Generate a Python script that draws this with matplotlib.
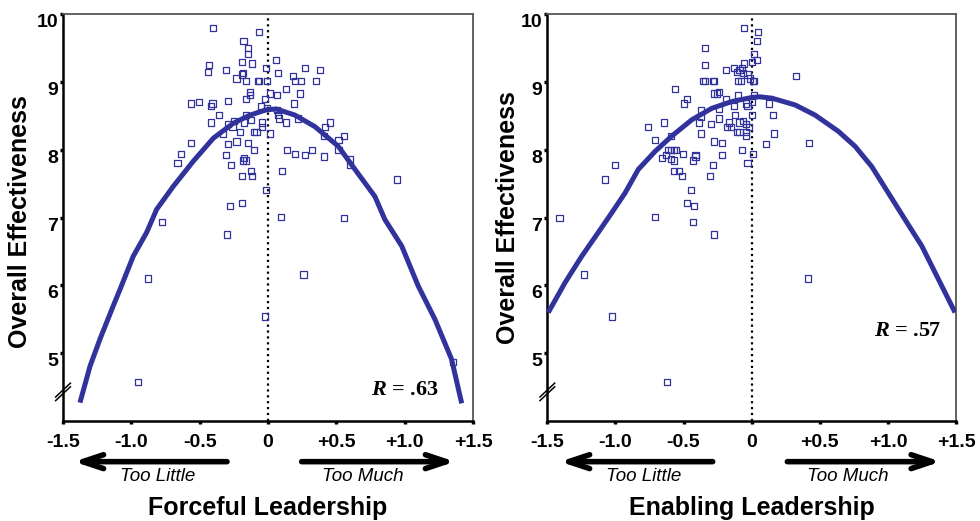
import numpy as np
import matplotlib
matplotlib.use("Agg")
from matplotlib import pyplot as plt

plt.rcParams['font.family'] = ['Liberation Sans', 'DejaVu Sans']
plt.rcParams['mathtext.fontset'] = 'custom'
plt.rcParams['mathtext.bf'] = 'Liberation Serif:bold'
plt.rcParams['mathtext.bfit'] = 'Liberation Serif:italic:bold'

# ---- data ----
# Forceful leadership (left panel)
forceful_x = [-0.40, -0.066, -0.18, -0.144, -0.144, -0.43, -0.44, -0.31, -0.193, -0.115,
              -0.185, -0.19, -0.23, -0.163, -0.076, -0.066, -0.007, -0.017, 0.061, 0.073,
              0.183, 0.198, 0.241, 0.268, 0.349, 0.378, 0.132, 0.232, 0.063, 0.015,
              -0.024, -0.134, -0.134, -0.163, -0.29, -0.507, -0.566, -0.407, -0.417, 0.190,
              -0.054, -0.01, -0.36, -0.163, -0.124, -0.25, -0.29, -0.417, -0.173, -0.046,
              -0.046, -0.26, -0.33, -0.205, -0.10, -0.085, 0.015, 0.063, 0.073, 0.083,
              0.132, 0.22, 0.417, 0.456, 0.407, 0.515, 0.554, -0.566, -0.29, -0.23,
              -0.144, -0.105, -0.634, -0.663, -0.31, -0.27, -0.173, -0.163, -0.183, 0.141,
              0.20, 0.268, 0.32, 0.407, 0.515, 0.602, 0.602, -0.124, -0.193, -0.115,
              0.102, 0.946, -0.017, -0.28, -0.193, -0.773, 0.093, 0.554, -0.30, -0.88,
              0.259, -0.024, 1.354, -0.949]
forceful_y = [9.80, 9.74, 9.60, 9.50, 9.41, 9.25, 9.15, 9.17, 9.29, 9.27,
              9.13, 9.11, 9.05, 9.01, 9.01, 9.01, 9.01, 9.21, 9.32, 9.13,
              9.09, 9.01, 9.01, 9.21, 9.01, 9.17, 8.89, 8.83, 8.81, 8.83,
              8.75, 8.85, 8.81, 8.75, 8.72, 8.70, 8.68, 8.68, 8.64, 8.68,
              8.64, 8.61, 8.51, 8.51, 8.44, 8.42, 8.38, 8.40, 8.40, 8.40,
              8.34, 8.34, 8.24, 8.26, 8.26, 8.26, 8.24, 8.58, 8.51, 8.46,
              8.40, 8.46, 8.34, 8.40, 8.20, 8.14, 8.20, 8.10, 8.08, 8.12,
              8.10, 8.00, 7.94, 7.80, 7.92, 7.78, 7.88, 7.84, 7.84, 8.00,
              7.94, 7.92, 8.00, 7.90, 8.00, 7.86, 7.78, 7.69, 7.61, 7.61,
              7.69, 7.56, 7.41, 7.17, 7.21, 6.93, 7.01, 6.99, 6.75, 6.10,
              6.16, 5.54, 4.87, 4.58]
forceful_fit_x = [-1.376, -1.302, -1.229, -1.132, -1.083, -0.986, -0.888, -0.815, -0.693,
                  -0.547, -0.40, -0.254, -0.132, -0.01, 0.06, 0.197, 0.343, 0.514, 0.636,
                  0.782, 0.855, 0.978, 1.099, 1.221, 1.343, 1.417]
forceful_fit_y = [4.27, 4.81, 5.21, 5.70, 5.94, 6.43, 6.78, 7.12, 7.46,
                  7.83, 8.17, 8.39, 8.51, 8.59, 8.60, 8.51, 8.34, 8.05, 7.71,
                  7.31, 6.97, 6.58, 5.99, 5.50, 4.91, 4.26]

# Enabling leadership (right panel)
enabling_x = [-0.059, 0.049, 0.039, -0.345, 0.020, 0.039, -0.345, 0.0, -0.059, -0.186,
              -0.13, -0.069, -0.11, -0.09, -0.061, -0.03, -0.015, 0.325, -0.355, -0.345,
              -0.286, -0.276, -0.10, -0.081, 0.01, 0.02, -0.563, -0.472, -0.494, -0.276,
              -0.257, -0.237, -0.186, -0.10, 0.02, -0.374, -0.374, -0.237, -0.13, -0.039,
              -0.03, 0.0, 0.127, 0.157, 0.0, -0.12, -0.237, -0.384, -0.296, -0.179,
              -0.169, -0.149, -0.061, -0.09, -0.039, -0.02, -0.11, -0.09, -0.039, -0.039,
              0.166, 0.108, 0.423, -0.759, -0.641, -0.71, -0.592, -0.374, -0.276, -0.218,
              -0.069, 0.01, -0.03, -0.612, -0.592, -0.573, -0.553, -0.661, -0.631, -0.592,
              -0.573, -0.502, -0.433, -0.413, -0.413, -0.286, -0.218, -0.573, -0.533, -0.514,
              -0.306, -1.006, -1.074, -0.445, -0.472, -0.423, -0.433, -0.71, -0.276, -1.41,
              -1.231, 0.413, -1.025, -0.621]
enabling_y = [9.80, 9.74, 9.60, 9.50, 9.41, 9.32, 9.25, 9.29, 9.27, 9.17,
              9.21, 9.21, 9.15, 9.17, 9.13, 9.11, 9.05, 9.09, 9.01, 9.01,
              9.01, 9.01, 9.01, 9.01, 9.01, 9.01, 8.89, 8.75, 8.68, 8.83,
              8.83, 8.85, 8.75, 8.81, 8.81, 8.58, 8.48, 8.60, 8.64, 8.68,
              8.64, 8.70, 8.68, 8.51, 8.51, 8.51, 8.46, 8.40, 8.38, 8.34,
              8.40, 8.34, 8.42, 8.40, 8.38, 8.34, 8.26, 8.26, 8.26, 8.20,
              8.24, 8.08, 8.10, 8.34, 8.40, 8.14, 8.20, 8.24, 8.12, 8.10,
              8.00, 7.94, 7.80, 8.00, 8.00, 8.00, 8.00, 7.88, 7.92, 7.86,
              7.84, 7.94, 7.84, 7.92, 7.90, 7.78, 7.92, 7.69, 7.69, 7.61,
              7.61, 7.78, 7.56, 7.41, 7.21, 7.17, 6.93, 7.01, 6.75, 6.99,
              6.16, 6.10, 5.54, 4.58]
enabling_fit_x = [-1.493, -1.37, -1.247, -1.126, -1.027, -0.93, -0.832, -0.709, -0.587,
                  -0.44, -0.293, -0.146, 0.001, 0.06, 0.148, 0.319, 0.466, 0.637, 0.759,
                  0.882, 1.004, 1.126, 1.249, 1.371, 1.493]
enabling_fit_y = [5.60, 6.04, 6.43, 6.78, 7.07, 7.36, 7.71, 7.975, 8.20,
                  8.44, 8.61, 8.71, 8.77, 8.78, 8.76, 8.66, 8.51, 8.27, 8.05,
                  7.75, 7.36, 6.97, 6.58, 6.09, 5.60]

xticks = [-1.5, -1.0, -0.5, 0, 0.5, 1.0, 1.5]
xtick_labels = ['-1.5', '-1.0', '-0.5', '0', '+0.5', '+1.0', '+1.5']
yticks = [5, 6, 7, 8, 9, 10]
ytick_labels = ['5', '6', '7', '8', '9', '10']

blue = '#32329c'


def panel(ax, px, py, cx, cy, xlabel, rtext, rpos, ylab_x, ylab_y, arrows, words):
    ax.set_xlim(-1.5, 1.5)
    ax.set_ylim(4.0, 10.0)
    ax.axvline(0, color='black', linestyle=':', linewidth=1.6, zorder=1)
    ax.scatter(px, py, marker='s', s=20, facecolors='none', edgecolors=blue,
               linewidths=0.9, zorder=3)
    ax.plot(cx, cy, color=blue, linewidth=3.6, solid_capstyle='butt', zorder=4)

    for side in ['left', 'bottom']:
        ax.spines[side].set_linewidth(1.8)
        ax.spines[side].set_color('black')
    for side in ['top', 'right']:
        ax.spines[side].set_linewidth(1.3)
        ax.spines[side].set_color('#555555')

    ax.set_xticks(xticks, xtick_labels)
    ax.set_yticks(yticks, ytick_labels)
    ax.tick_params(axis='x', length=2.5, width=2.5, pad=7, labelsize=14)
    ax.tick_params(axis='y', length=2.0, width=2.5, pad=1.5, labelsize=14)
    for lab in ax.get_xticklabels() + ax.get_yticklabels():
        lab.set_fontweight('bold')
    for lab in ax.get_yticklabels():
        lab.set_va('top')

    # axis break mark on the y axis
    for dy in (0.0, 0.009):
        ax.plot([-0.018, 0.018], [0.050 + dy, 0.084 + dy], color='black', lw=1.1,
                transform=ax.transAxes, clip_on=False, zorder=5)

    # arrows below the axis
    trans = ax.get_xaxis_transform()
    for x0, x1 in arrows:
        ax.annotate('', xy=(x1, -0.10), xytext=(x0, -0.10), xycoords=trans,
                    textcoords=trans, annotation_clip=False,
                    arrowprops=dict(arrowstyle='->,head_length=1.5,head_width=0.5',
                                    color='black', lw=4.0, shrinkA=0, shrinkB=0))
    for (wx, wtext) in words:
        ax.text(wx, -0.137, wtext, transform=trans, ha='center', va='center',
                fontsize=13.5, fontstyle='italic')

    ax.text(0.5, -0.213, xlabel, transform=ax.transAxes, ha='center', va='center',
            fontsize=18, fontweight='bold')
    ax.text(ylab_x, ylab_y, 'Overall Effectiveness', transform=ax.transAxes,
            rotation=90, ha='center', va='center', fontsize=18, fontweight='bold')
    ax.text(rpos[0], rpos[1], r'$\mathbfit{R}$ = ' + rtext, ha='center', va='center',
            fontsize=16, fontweight='bold', family='Liberation Serif')


fig = plt.figure(figsize=(9.8, 5.21), dpi=100)
ax1 = fig.add_axes([0.0643, 0.192, 0.4184, 0.781])
ax2 = fig.add_axes([0.5585, 0.192, 0.4170, 0.781])

panel(ax1, forceful_x, forceful_y, forceful_fit_x, forceful_fit_y,
      'Forceful Leadership', '.63', (1.0, 4.46), -0.105, 0.49,
      [(-0.30, -1.42), (0.246, 1.368)], [(-0.806, 'Too Little'), (0.692, 'Too Much')])
panel(ax2, enabling_x, enabling_y, enabling_fit_x, enabling_fit_y,
      'Enabling Leadership', '.57', (1.145, 5.33), -0.096, 0.50,
      [(-0.286, -1.407), (0.262, 1.388)], [(-0.796, 'Too Little'), (0.708, 'Too Much')])

fig.savefig('out.png', dpi=100, facecolor='white')
